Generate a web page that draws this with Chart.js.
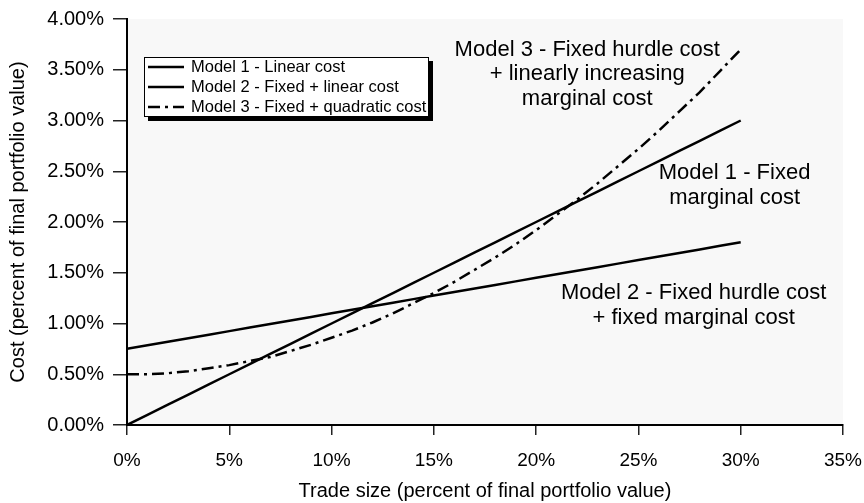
<!DOCTYPE html>
<html>
<head>
<meta charset="utf-8">
<script src="https://cdn.jsdelivr.net/npm/chart.js@4.4.1/dist/chart.umd.min.js"></script>
<style>
    body { margin: 0; background: #ffffff; }
    canvas { display: block; }
</style>
</head>
<body>
<canvas id="tradeCostChart" width="864" height="503"></canvas>
<script>
// trade size in percent of final portfolio value
var tradeSize = [0, 1, 2, 3, 4, 5, 6, 7, 8, 9, 10, 11, 12, 13, 14, 15, 16, 17, 18, 19, 20, 21, 22, 23, 24, 25, 26, 27, 28, 29, 30];

// cost in percent
var model1Cost = [0.00, 0.10, 0.20, 0.30, 0.40, 0.50, 0.60, 0.70, 0.80, 0.90, 1.00, 1.10, 1.20, 1.30, 1.40, 1.50,
    1.60, 1.70, 1.80, 1.90, 2.00, 2.10, 2.20, 2.30, 2.40, 2.50, 2.60, 2.70, 2.80, 2.90, 3.00];
var model2Cost = [0.75, 0.785, 0.82, 0.855, 0.89, 0.925, 0.96, 0.995, 1.03, 1.065, 1.10, 1.135, 1.17, 1.205, 1.24, 1.275,
    1.31, 1.345, 1.38, 1.415, 1.45, 1.485, 1.52, 1.555, 1.59, 1.625, 1.66, 1.695, 1.73, 1.765, 1.80];
var model3Cost = [0.50, 0.50, 0.51, 0.53, 0.56, 0.59, 0.63, 0.67, 0.73, 0.79, 0.86, 0.93, 1.01, 1.10, 1.20, 1.30,
    1.41, 1.53, 1.65, 1.78, 1.92, 2.07, 2.22, 2.38, 2.55, 2.72, 2.90, 3.09, 3.28, 3.49, 3.70];

var seriesNames = ['Model 1 - Linear cost', 'Model 2 - Fixed + linear cost', 'Model 3 - Fixed + quadratic cost'];

// text notes, anchored in data units (x %, y %)
var noteLines = [
    ['Model 3 - Fixed hurdle cost', '+ linearly increasing', 'marginal cost'],
    ['Model 1 - Fixed', 'marginal cost'],
    ['Model 2 - Fixed hurdle cost', '+ fixed marginal cost']
];
var noteX = [22.5, 29.7, 27.7];
var noteY = [3.70, 2.48, 1.30];

var fontName = '"Liberation Sans", Arial, Helvetica, sans-serif';
var model3Dash = [12, 5, 3, 5];

function toPoints(values) {
    return tradeSize.map(function (x, i) { return { x: x, y: values[i] }; });
}

var plotBackground = {
    id: 'plotBackground',
    beforeDraw: function (chart) {
        var a = chart.chartArea;
        var ctx = chart.ctx;
        ctx.save();
        ctx.fillStyle = '#f8f8f8';
        ctx.fillRect(a.left, a.top, a.right - a.left, a.bottom - a.top);
        ctx.restore();
    }
};

var notesAndLegend = {
    id: 'notesAndLegend',
    afterDatasetsDraw: function (chart) {
        var ctx = chart.ctx;
        var xs = chart.scales.x;
        var ys = chart.scales.y;
        ctx.save();

        // notes
        ctx.fillStyle = '#000';
        ctx.font = '22px ' + fontName;
        ctx.textAlign = 'center';
        ctx.textBaseline = 'middle';
        for (var n = 0; n < noteLines.length; n++) {
            var cx = xs.getPixelForValue(noteX[n]);
            var cy = ys.getPixelForValue(noteY[n]);
            for (var l = 0; l < noteLines[n].length; l++) {
                ctx.fillText(noteLines[n][l], cx, cy + l * 24.5);
            }
        }

        // legend box
        var a = chart.chartArea;
        var bx = a.left + 17, by = a.top + 38, bw = 285, bh = 60;
        ctx.fillStyle = '#000';
        ctx.fillRect(bx + 4, by + 4, bw, bh);
        ctx.fillStyle = '#fff';
        ctx.fillRect(bx, by, bw, bh);
        ctx.strokeStyle = '#000';
        ctx.lineWidth = 1;
        ctx.strokeRect(bx + 0.5, by + 0.5, bw - 1, bh - 1);

        ctx.font = '16.5px ' + fontName;
        ctx.textAlign = 'left';
        var ds = chart.data.datasets;
        for (var i = 0; i < ds.length; i++) {
            var ry = by + 10 + i * 20;
            ctx.beginPath();
            ctx.setLineDash(ds[i].borderDash || []);
            ctx.lineWidth = 2.5;
            ctx.moveTo(bx + 4, ry);
            ctx.lineTo(bx + 40, ry);
            ctx.stroke();
            ctx.setLineDash([]);
            ctx.fillStyle = '#000';
            ctx.fillText(ds[i].label, bx + 47, ry);
        }
        ctx.restore();
    }
};

function drawTradeCostChart() {
    var ctx = document.getElementById('tradeCostChart').getContext('2d');
    new Chart(ctx, {
        type: 'line',
        data: {
            datasets: [{
                label: seriesNames[0],
                data: toPoints(model1Cost),
                borderColor: '#000',
                borderWidth: 2.5
            }, {
                label: seriesNames[1],
                data: toPoints(model2Cost),
                borderColor: '#000',
                borderWidth: 2.5
            }, {
                label: seriesNames[2],
                data: toPoints(model3Cost),
                borderColor: '#000',
                borderWidth: 2.5,
                borderDash: model3Dash
            }]
        },
        options: {
            responsive: false,
            animation: false,
            devicePixelRatio: 1,
            layout: { padding: { top: 19, right: 21, left: 0, bottom: 0 } },
            elements: { point: { radius: 0 }, line: { tension: 0 } },
            plugins: {
                legend: { display: false },
                tooltip: { enabled: false }
            },
            scales: {
                x: {
                    type: 'linear',
                    min: 0,
                    max: 35,
                    ticks: {
                        stepSize: 5,
                        color: '#000',
                        padding: 14,
                        maxRotation: 0,
                        font: { family: fontName, size: 19 },
                        callback: function (v) { return v + '%'; }
                    },
                    grid: { drawOnChartArea: false, tickLength: 10, color: '#222', lineWidth: 1.5 },
                    border: { color: '#000', width: 2 },
                    title: {
                        display: true,
                        text: 'Trade size (percent of final portfolio value)',
                        color: '#000',
                        font: { family: fontName, size: 20 },
                        padding: { top: 0, bottom: 0 }
                    },
                    afterFit: function (scale) {
                        scale.height = 78;
                        scale.paddingLeft = 0;
                        scale.paddingRight = 0;
                    }
                },
                y: {
                    min: 0,
                    max: 4,
                    ticks: {
                        stepSize: 0.5,
                        color: '#000',
                        padding: 9,
                        font: { family: fontName, size: 20 },
                        callback: function (v) { return v.toFixed(2) + '%'; }
                    },
                    grid: { drawOnChartArea: false, tickLength: 14, color: '#222', lineWidth: 1.5 },
                    border: { color: '#000', width: 2 },
                    title: {
                        display: true,
                        text: 'Cost (percent of final portfolio value)',
                        color: '#000',
                        font: { family: fontName, size: 20 },
                        padding: { top: 6, bottom: 0 }
                    },
                    afterFit: function (scale) {
                        scale.width = 127;
                        scale.paddingTop = 0;
                        scale.paddingBottom = 0;
                    }
                }
            }
        },
        plugins: [plotBackground, notesAndLegend]
    });
}

drawTradeCostChart();
</script>
</body>
</html>
